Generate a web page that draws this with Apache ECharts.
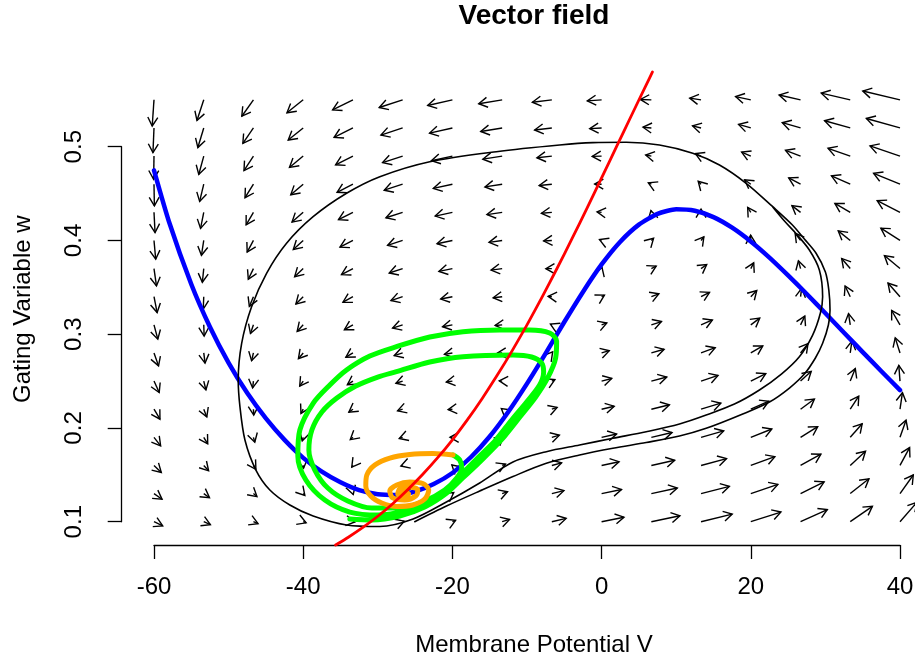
<!DOCTYPE html>
<html>
<head>
<meta charset="utf-8">
<style>
  html, body { margin: 0; padding: 0; background: #ffffff; }
  #chart { width: 915px; height: 663px; }
</style>
<script src="https://cdn.jsdelivr.net/npm/echarts@6/dist/echarts.min.js"></script>
</head>
<body>
<div id="chart"></div>
<script>
// axis ticks
const xTicks = [-60, -40, -20, 0, 20, 40];
const yTicks = [0.1, 0.2, 0.3, 0.4, 0.5];

// vector field grid (arrow tails)
const fieldV = [-60, -53.33, -46.67, -40, -33.33, -26.67, -20, -13.33, -6.67, 0, 6.67, 13.33, 20, 26.67, 33.33, 40];
const fieldW = [0.10, 0.13, 0.16, 0.19, 0.22, 0.25, 0.28, 0.31, 0.34, 0.37, 0.40, 0.43, 0.46, 0.49, 0.52, 0.55];

// arrow offsets, one row per w level (bottom to top), one column per V
const arrowDV = [
  [1.17, 0.89, 0.62, 0.39, 0.24, 0.22, 0.43, 0.99, 1.92, 3.00, 3.83, 4.18, 4.04, 3.59, 2.97, 2.26],
  [1.08, 0.77, 0.47, 0.22, 0.04, -0.01, 0.18, 0.72, 1.62, 2.67, 3.48, 3.80, 3.63, 3.16, 2.51, 1.78],
  [0.98, 0.65, 0.33, 0.05, -0.16, -0.23, -0.07, 0.44, 1.31, 2.34, 3.13, 3.42, 3.23, 2.73, 2.05, 1.29],
  [0.89, 0.53, 0.18, -0.13, -0.36, -0.45, -0.32, 0.17, 1.01, 2.01, 2.77, 3.04, 2.82, 2.30, 1.60, 0.81],
  [0.80, 0.41, 0.04, -0.30, -0.55, -0.68, -0.57, -0.11, 0.71, 1.69, 2.42, 2.66, 2.42, 1.86, 1.14, 0.33],
  [0.70, 0.29, -0.11, -0.47, -0.75, -0.90, -0.82, -0.39, 0.41, 1.36, 2.07, 2.28, 2.01, 1.43, 0.68, -0.16],
  [0.61, 0.17, -0.25, -0.64, -0.95, -1.13, -1.07, -0.66, 0.11, 1.03, 1.71, 1.90, 1.61, 1.00, 0.22, -0.64],
  [0.51, 0.05, -0.40, -0.81, -1.15, -1.35, -1.32, -0.94, -0.19, 0.70, 1.36, 1.52, 1.20, 0.57, -0.23, -1.12],
  [0.42, -0.07, -0.55, -0.98, -1.34, -1.57, -1.57, -1.21, -0.50, 0.38, 1.01, 1.14, 0.80, 0.14, -0.69, -1.61],
  [0.33, -0.19, -0.69, -1.15, -1.54, -1.80, -1.81, -1.49, -0.80, 0.05, 0.65, 0.76, 0.39, -0.29, -1.15, -2.09],
  [0.23, -0.31, -0.84, -1.33, -1.74, -2.02, -2.06, -1.76, -1.10, -0.28, 0.30, 0.38, -0.02, -0.73, -1.61, -2.57],
  [0.14, -0.43, -0.98, -1.50, -1.94, -2.24, -2.31, -2.04, -1.40, -0.61, -0.06, 0.00, -0.42, -1.16, -2.06, -3.06],
  [0.05, -0.55, -1.13, -1.67, -2.13, -2.47, -2.56, -2.31, -1.70, -0.93, -0.41, -0.38, -0.83, -1.59, -2.52, -3.54],
  [-0.05, -0.67, -1.27, -1.84, -2.33, -2.69, -2.81, -2.59, -2.00, -1.26, -0.76, -0.76, -1.23, -2.02, -2.98, -4.02],
  [-0.14, -0.79, -1.42, -2.01, -2.53, -2.91, -3.06, -2.87, -2.31, -1.59, -1.12, -1.14, -1.64, -2.45, -3.44, -4.51],
  [-0.24, -0.91, -1.56, -2.18, -2.73, -3.14, -3.31, -3.14, -2.61, -1.92, -1.47, -1.52, -2.04, -2.88, -3.89, -4.99]
];
const arrowDW = [
  [-0.0044, -0.0032, -0.0021, -0.0012, -0.0003, 0.0006, 0.0015, 0.0024, 0.0035, 0.0048, 0.0063, 0.0081, 0.0103, 0.0130, 0.0164, 0.0206],
  [-0.0060, -0.0044, -0.0032, -0.0020, -0.0010, 0.0000, 0.0010, 0.0020, 0.0031, 0.0044, 0.0059, 0.0077, 0.0098, 0.0125, 0.0158, 0.0198],
  [-0.0075, -0.0057, -0.0042, -0.0029, -0.0017, -0.0006, 0.0005, 0.0015, 0.0027, 0.0040, 0.0055, 0.0073, 0.0094, 0.0120, 0.0152, 0.0191],
  [-0.0091, -0.0070, -0.0052, -0.0037, -0.0024, -0.0012, 0.0000, 0.0011, 0.0023, 0.0036, 0.0051, 0.0068, 0.0089, 0.0114, 0.0145, 0.0183],
  [-0.0107, -0.0082, -0.0062, -0.0045, -0.0031, -0.0018, -0.0005, 0.0007, 0.0019, 0.0032, 0.0047, 0.0064, 0.0085, 0.0109, 0.0139, 0.0176],
  [-0.0122, -0.0095, -0.0073, -0.0054, -0.0038, -0.0023, -0.0010, 0.0002, 0.0015, 0.0028, 0.0043, 0.0060, 0.0080, 0.0104, 0.0133, 0.0168],
  [-0.0138, -0.0108, -0.0083, -0.0062, -0.0045, -0.0029, -0.0015, -0.0002, 0.0011, 0.0024, 0.0039, 0.0056, 0.0075, 0.0099, 0.0127, 0.0161],
  [-0.0153, -0.0120, -0.0093, -0.0071, -0.0052, -0.0035, -0.0020, -0.0007, 0.0007, 0.0020, 0.0035, 0.0052, 0.0071, 0.0093, 0.0120, 0.0153],
  [-0.0169, -0.0133, -0.0103, -0.0079, -0.0059, -0.0041, -0.0025, -0.0011, 0.0003, 0.0017, 0.0031, 0.0047, 0.0066, 0.0088, 0.0114, 0.0146],
  [-0.0185, -0.0146, -0.0114, -0.0087, -0.0065, -0.0047, -0.0030, -0.0016, -0.0001, 0.0013, 0.0027, 0.0043, 0.0061, 0.0083, 0.0108, 0.0139],
  [-0.0200, -0.0158, -0.0124, -0.0096, -0.0072, -0.0053, -0.0035, -0.0020, -0.0006, 0.0009, 0.0023, 0.0039, 0.0057, 0.0077, 0.0102, 0.0131],
  [-0.0216, -0.0171, -0.0134, -0.0104, -0.0079, -0.0058, -0.0040, -0.0024, -0.0010, 0.0005, 0.0019, 0.0035, 0.0052, 0.0072, 0.0095, 0.0124],
  [-0.0232, -0.0184, -0.0144, -0.0113, -0.0086, -0.0064, -0.0045, -0.0029, -0.0014, 0.0001, 0.0015, 0.0031, 0.0048, 0.0067, 0.0089, 0.0116],
  [-0.0247, -0.0196, -0.0155, -0.0121, -0.0093, -0.0070, -0.0050, -0.0033, -0.0018, -0.0003, 0.0011, 0.0027, 0.0043, 0.0061, 0.0083, 0.0109],
  [-0.0263, -0.0209, -0.0165, -0.0129, -0.0100, -0.0076, -0.0055, -0.0038, -0.0022, -0.0007, 0.0008, 0.0022, 0.0038, 0.0056, 0.0077, 0.0101],
  [-0.0279, -0.0221, -0.0175, -0.0138, -0.0107, -0.0082, -0.0060, -0.0042, -0.0026, -0.0011, 0.0004, 0.0018, 0.0034, 0.0051, 0.0071, 0.0094]
];

// V-nullcline (blue)
const vNullV = [-60, -58, -55, -52.5, -50, -47.5, -45, -42.5, -40, -37.5, -35, -32.5, -30, -27.5, -25, -22.5, -20, -17.5, -15, -12.5, -10,
  -7.5, -5, -2.5, 0, 2.5, 5, 7.5, 10, 12.5, 15, 17.5, 20, 22.5, 25, 27.5, 30, 32.5, 35, 37.5, 40];
const vNullW = [0.4747, 0.4202, 0.3533, 0.3077, 0.2695, 0.2372, 0.2102, 0.1873, 0.1681, 0.1533, 0.1420, 0.1337, 0.1293, 0.1285, 0.1322, 0.1402, 0.1520, 0.1690, 0.1909, 0.2173, 0.2473,
  0.2796, 0.3130, 0.3451, 0.3744, 0.3987, 0.4169, 0.4284, 0.4332, 0.4316, 0.4249, 0.4136, 0.3989, 0.3817, 0.3627, 0.3429, 0.3224, 0.3016, 0.2809, 0.2605, 0.2403];

// w-nullcline (red)
const wNullV = [-35.66, -34, -32, -30, -28, -26, -24, -22, -20, -18, -16, -14, -12, -10, -8, -6, -4, -2, 0, 2, 4, 6, 6.82];
const wNullW = [0.0751, 0.0832, 0.0939, 0.1058, 0.1192, 0.1341, 0.1503, 0.1680, 0.1874, 0.2086, 0.2315, 0.2561, 0.2822, 0.3100, 0.3393, 0.3698, 0.4013, 0.4337, 0.4667, 0.5000, 0.5333, 0.5663, 0.5797];

// black trajectory [V, w]
const blackPath = [
  [-25.05, 0.1000], [-20.8, 0.1167], [-16.34, 0.1327], [-11.88, 0.1482], [-7.41, 0.1623], [-2.95, 0.1711],
  [1.51, 0.1783], [5.98, 0.1845], [10.44, 0.1914], [14.02, 0.1996], [18.92, 0.2149], [22.50, 0.2277],
  [25.18, 0.2426], [27.18, 0.2575], [28.66, 0.2746], [29.63, 0.2903], [30.4, 0.3098], [30.62, 0.3258],
  [30.46, 0.3471], [30.0, 0.3663], [28.75, 0.3863], [27.18, 0.4015], [25.58, 0.4165], [22.94, 0.4360],
  [19.38, 0.4610], [15.8, 0.4805], [12.22, 0.4930], [7.76, 0.5018], [3.31, 0.5047], [-1.17, 0.5043],
  [-5.63, 0.5018], [-14.11, 0.4947], [-23.04, 0.4840], [-29.73, 0.4680], [-34.19, 0.4503], [-38.67, 0.4253],
  [-42.23, 0.3970], [-44.91, 0.3650], [-46.92, 0.3293], [-48.25, 0.2903], [-48.71, 0.2511], [-48.48, 0.2227],
  [-47.81, 0.1871], [-46.34, 0.1551], [-44.47, 0.1338], [-41.79, 0.1178], [-38.67, 0.1061], [-34.19, 0.0965],
  [-29.73, 0.0949], [-25.27, 0.1029], [-20.8, 0.1210], [-16.34, 0.1413], [-11.88, 0.1637], [-7.41, 0.1747],
  [-2.95, 0.1818], [1.51, 0.1890], [5.98, 0.1960], [10.44, 0.2042], [14.02, 0.2138], [17.81, 0.2255],
  [21.16, 0.2405], [24.10, 0.2575], [26.51, 0.2760], [28.29, 0.2991], [29.33, 0.3226], [29.63, 0.3400],
  [29.19, 0.3685], [27.85, 0.3898], [26.11, 0.4069], [24.51, 0.4207], [22.94, 0.4357]
];

// green trajectory [V, w]
const greenPath = [
  [-19.92, 0.1711], [-19.02, 0.1658], [-18.75, 0.1573], [-19.42, 0.1466], [-21.03, 0.1338], [-23.71, 0.1221],
  [-27.06, 0.1146], [-30.8, 0.1146], [-34.02, 0.1221], [-36.7, 0.1359], [-38.44, 0.1551], [-39.24, 0.1765],
  [-38.84, 0.1978], [-37.5, 0.2170], [-35.49, 0.2319], [-32.95, 0.2447], [-30.0, 0.2543], [-27.5, 0.2600],
  [-23.04, 0.2703], [-18.58, 0.2760], [-11.88, 0.2778], [-9.38, 0.2757], [-8.04, 0.2693], [-7.77, 0.2597],
  [-8.31, 0.2458], [-10.05, 0.2277], [-12.06, 0.2085], [-14.2, 0.1871], [-16.34, 0.1701], [-18.22, 0.1551],
  [-20.36, 0.1370], [-23.04, 0.1221], [-26.39, 0.1114], [-30.0, 0.1071], [-33.75, 0.1103], [-37.1, 0.1231],
  [-39.64, 0.1445], [-40.72, 0.1701], [-40.45, 0.1978], [-38.67, 0.2263], [-36.43, 0.2458], [-34.19, 0.2618],
  [-31.07, 0.2767], [-27.5, 0.2867], [-23.04, 0.2970], [-18.58, 0.3027], [-13.66, 0.3045], [-9.65, 0.3045],
  [-6.97, 0.3013], [-6.03, 0.2927], [-6.16, 0.2746], [-7.23, 0.2533], [-8.84, 0.2330], [-10.85, 0.2127],
  [-12.99, 0.1914], [-15.0, 0.1743], [-16.88, 0.1594], [-18.62, 0.1466], [-20.76, 0.1306], [-23.71, 0.1157],
  [-27.06, 0.1061], [-30.8, 0.1018], [-33.75, 0.1029]
];

// orange trajectory [V, w]
const orangePath = [
  [-19.92, 0.1711], [-22.64, 0.1727], [-25.72, 0.1717], [-28.39, 0.1679], [-30.4, 0.1605], [-31.47, 0.1498],
  [-31.61, 0.1381], [-30.94, 0.1274], [-29.47, 0.1199], [-27.46, 0.1162], [-25.31, 0.1178], [-23.71, 0.1242],
  [-23.17, 0.1338], [-23.97, 0.1407], [-25.72, 0.1423], [-27.46, 0.1391], [-28.39, 0.1327], [-27.99, 0.1253],
  [-26.39, 0.1231], [-24.91, 0.1274], [-24.64, 0.1338], [-25.72, 0.1370], [-27.06, 0.1349], [-27.32, 0.1295],
  [-26.52, 0.1263], [-25.85, 0.1295], [-26.39, 0.1322], [-26.79, 0.1295], [-26.52, 0.1284]
];

const FONT = '"Liberation Sans", Arial, Helvetica, sans-serif';

const chart = echarts.init(document.getElementById('chart'), null, { renderer: 'canvas' });

const arrowData = [];
fieldW.forEach((w, j) => {
  fieldV.forEach((v, i) => {
    arrowData.push([v, w, arrowDV[j][i], arrowDW[j][i]]);
  });
});

const zip = (xs, ys) => xs.map((x, i) => [x, ys[i]]);

const curve = (name, data, color, width, z, smooth) => ({
  name,
  type: 'line',
  data,
  symbol: 'none',
  showSymbol: false,
  smooth,
  clip: false,
  silent: true,
  z,
  lineStyle: { color, width, cap: 'round', join: 'round' },
});

chart.setOption({
  animation: false,
  backgroundColor: '#ffffff',
  graphic: [
    {
      type: 'text',
      x: 534,
      y: 16,
      style: {
        text: 'Vector field',
        font: 'bold 28px ' + FONT,
        fill: '#000',
        align: 'center',
        verticalAlign: 'middle',
        textAlign: 'center',
        textVerticalAlign: 'middle',
      },
    },
  ],
  grid: {
    left: 154,
    right: 15,
    top: 146.7,
    bottom: 141.3,
    containLabel: false,
    outerBoundsMode: 'none',
  },
  xAxis: {
    type: 'value',
    min: xTicks[0],
    max: xTicks[xTicks.length - 1],
    interval: 20,
    offset: 23.3,
    axisLine: { show: true, onZero: false, lineStyle: { color: '#000', width: 1.3 } },
    axisTick: { show: true, length: 14, lineStyle: { color: '#000', width: 1.3 } },
    axisLabel: { color: '#000', fontSize: 24, fontFamily: FONT, margin: 30, showMinLabel: true, showMaxLabel: true },
    splitLine: { show: false },
    name: 'Membrane Potential V',
    nameLocation: 'middle',
    nameGap: 88,
    nameTextStyle: { color: '#000', fontSize: 24, fontFamily: FONT, padding: [0, 0, 0, 14] },
  },
  yAxis: {
    type: 'value',
    min: yTicks[0],
    max: yTicks[yTicks.length - 1],
    interval: 0.1,
    offset: 32.3,
    axisLine: { show: true, onZero: false, lineStyle: { color: '#000', width: 1.3 } },
    axisTick: { show: true, length: 14, lineStyle: { color: '#000', width: 1.3 } },
    axisLabel: { color: '#000', fontSize: 24, fontFamily: FONT, rotate: 90, margin: 35, showMinLabel: true, showMaxLabel: true },
    splitLine: { show: false },
    name: 'Gating Variable w',
    nameLocation: 'middle',
    nameRotate: 90,
    nameGap: 86,
    nameTextStyle: { color: '#000', fontSize: 24, fontFamily: FONT, padding: [0, 0, 0, 50] },
  },
  series: [
    {
      name: 'field',
      type: 'custom',
      data: arrowData,
      clip: false,
      silent: true,
      z: 1,
      renderItem: (params, api) => {
        const v = api.value(0);
        const w = api.value(1);
        const p0 = api.coord([v, w]);
        const p1 = api.coord([v + api.value(2), w + api.value(3)]);
        const dx = p1[0] - p0[0];
        const dy = p1[1] - p0[1];
        if (Math.abs(dx) < 1e-6 && Math.abs(dy) < 1e-6) return null;
        const ang = Math.atan2(dy, dx);
        const head = 10;
        const spread = Math.PI / 6;
        const h1 = [p1[0] - head * Math.cos(ang - spread), p1[1] - head * Math.sin(ang - spread)];
        const h2 = [p1[0] - head * Math.cos(ang + spread), p1[1] - head * Math.sin(ang + spread)];
        const style = { stroke: '#000', lineWidth: 1.4, fill: null };
        return {
          type: 'group',
          children: [
            { type: 'line', shape: { x1: p0[0], y1: p0[1], x2: p1[0], y2: p1[1] }, style },
            { type: 'polyline', shape: { points: [h1, p1, h2] }, style },
          ],
        };
      },
    },
    curve('V-nullcline', zip(vNullV, vNullW), '#0000ff', 4.5, 2, 0.2),
    curve('trajectory', blackPath, '#000000', 1.6, 3, 0.3),
    curve('green', greenPath, '#00ff00', 5, 4, 0.3),
    curve('orange', orangePath, '#ffa500', 5, 5, 0.3),
    curve('w-nullcline', zip(wNullV, wNullW), '#ff0000', 2.8, 6, 0.2),
  ],
});
</script>
</body>
</html>
